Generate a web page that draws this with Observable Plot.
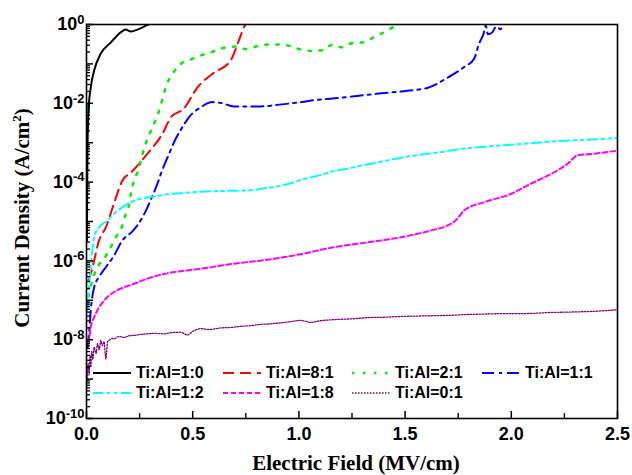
<!DOCTYPE html>
<html><head><meta charset="utf-8">
<script src="https://cdn.jsdelivr.net/npm/d3@7"></script>
<script src="https://cdn.jsdelivr.net/npm/@observablehq/plot@0.6"></script>
<style>
body{margin:0;background:#fff;}
#wrap{position:relative;width:632px;height:475px;overflow:hidden;background:#fff;}
.ttl{position:absolute;font-family:"Liberation Serif","Times New Roman",serif;font-weight:bold;font-size:21px;white-space:nowrap;color:#000;line-height:1;}
.item{position:absolute;display:flex;align-items:center;height:20px;font-family:"Liberation Sans",Arial,sans-serif;font-weight:bold;font-size:16px;color:#000;white-space:nowrap;}
.item svg{margin-right:5px;}
</style></head><body><div id="wrap"></div>
<script>
// ---- data (E in MV/cm, log10 of J in A/cm^2) ----
const names = ["Ti:Al=1:0","Ti:Al=8:1","Ti:Al=2:1","Ti:Al=1:1","Ti:Al=1:2","Ti:Al=1:8","Ti:Al=0:1"];
const colors = ["#000000","#ff0000","#00ee00","#0000ff","#00ffff","#ff00ff","#800080"];
const dashes = ["none","11,6","2.5,8.5","12,5,3,5","10,4,3,4,3,4","5,3","1.5,1.5"];
const widths = [2,2,2.5,2,2,2,1.3];

const E_10 = [0.002,0.003,0.005,0.011,0.02,0.036,0.067,0.114,0.161,0.185,0.209,0.24,0.279,0.30];
const L_10 = [-5.5,-4.5,-3.0,-2.06,-1.6,-1.17,-0.74,-0.46,-0.2,-0.13,-0.18,-0.13,-0.03,0.03];

const E_81 = [0.01,0.028,0.059,0.091,0.129,0.169,0.209,0.287,0.358,0.397,0.459,0.522,0.593,0.679,0.717,0.745,0.755];
const L_81 = [-6.5,-6.17,-5.48,-5.15,-4.55,-3.96,-3.76,-3.28,-2.77,-2.36,-2.13,-1.6,-1.25,-0.91,-0.41,-0.03,0.05];

const E_21 = [0.01,0.03,0.052,0.082,0.114,0.138,0.169,0.185,0.201,0.209,0.224,0.24,0.256,0.271,0.311,0.331,0.347,0.362,0.378,0.405,0.444,0.499,0.546,0.601,0.648,0.703,0.75,0.805,0.855,0.907,0.962,1.012,1.061,1.114,1.155,1.202,1.252,1.304,1.354,1.406,1.452,1.47];
const L_21 = [-6.9,-6.45,-6.15,-5.95,-5.65,-5.4,-5.1,-4.8,-4.55,-4.28,-3.96,-3.75,-3.45,-3.15,-2.6,-2.35,-2.1,-1.8,-1.52,-1.25,-1.0,-0.87,-0.77,-0.68,-0.59,-0.56,-0.62,-0.55,-0.51,-0.51,-0.55,-0.64,-0.67,-0.65,-0.52,-0.58,-0.47,-0.45,-0.32,-0.18,-0.03,0.05];

const E_11 = [0.005,0.012,0.02,0.036,0.059,0.091,0.13,0.169,0.216,0.264,0.287,0.311,0.334,0.35,0.389,0.42,0.452,0.483,0.538,0.593,0.632,0.695,0.758,0.82,0.868,0.962,1.009,1.088,1.197,1.291,1.401,1.511,1.605,1.7,1.778,1.825,1.848,1.869,1.88,1.89,1.91,1.93,1.95,1.96];
const L_11 = [-8.2,-7.85,-7.26,-6.67,-6.41,-6.16,-5.86,-5.48,-5.25,-4.89,-4.64,-4.34,-4.04,-3.79,-3.28,-2.9,-2.6,-2.35,-2.1,-1.97,-1.99,-2.08,-2.08,-2.08,-2.06,-2.0,-1.97,-1.91,-1.86,-1.8,-1.74,-1.68,-1.61,-1.35,-1.08,-0.87,-0.49,-0.24,-0.03,-0.25,-0.2,-0.05,-0.12,0.05];

const E_12 = [0.005,0.012,0.02,0.036,0.059,0.099,0.13,0.169,0.209,0.256,0.303,0.381,0.444,0.522,0.6,0.695,0.774,0.821,0.899,0.962,1.025,1.095,1.166,1.229,1.291,1.354,1.417,1.48,1.542,1.605,1.668,1.747,1.872,1.998,2.123,2.249,2.374,2.5];
const L_12 = [-7.26,-6.67,-6.16,-5.4,-5.15,-4.97,-4.8,-4.64,-4.51,-4.42,-4.38,-4.31,-4.28,-4.25,-4.23,-4.22,-4.21,-4.17,-4.11,-4.03,-3.92,-3.83,-3.72,-3.66,-3.58,-3.52,-3.45,-3.38,-3.33,-3.28,-3.24,-3.17,-3.10,-3.05,-3.0,-2.95,-2.92,-2.88];

const E_18 = [0.008,0.012,0.02,0.036,0.059,0.091,0.13,0.177,0.224,0.287,0.365,0.444,0.538,0.695,0.852,1.009,1.166,1.323,1.48,1.62,1.7,1.739,1.778,1.872,1.998,2.092,2.202,2.264,2.312,2.39,2.5];
const L_18 = [-8.1,-8.0,-7.68,-7.43,-7.18,-6.96,-6.79,-6.67,-6.58,-6.45,-6.33,-6.26,-6.2,-6.07,-5.97,-5.83,-5.65,-5.53,-5.4,-5.23,-5.1,-4.97,-4.72,-4.51,-4.3,-4.04,-3.75,-3.54,-3.32,-3.28,-3.2];

const E_01 = [0.003,0.008,0.012,0.017,0.02,0.025,0.03,0.036,0.045,0.052,0.06,0.067,0.075,0.083,0.091,0.095,0.099,0.11,0.12,0.13,0.15,0.177,0.2,0.224,0.25,0.287,0.32,0.365,0.4,0.444,0.475,0.5,0.538,0.58,0.632,0.68,0.726,0.78,0.821,0.86,0.899,0.95,1.009,1.056,1.1,1.166,1.25,1.323,1.4,1.48,1.56,1.636,1.72,1.794,1.87,1.951,2.03,2.107,2.18,2.264,2.33,2.39,2.45,2.5];
const L_01 = [-9.0,-8.6,-8.9,-8.4,-8.7,-8.3,-8.5,-8.19,-8.35,-8.1,-8.25,-8.02,-8.15,-8.05,-8.49,-8.3,-8.06,-8.0,-7.97,-7.98,-7.92,-7.94,-7.9,-7.89,-7.87,-7.85,-7.84,-7.85,-7.82,-7.81,-7.88,-7.79,-7.72,-7.74,-7.7,-7.69,-7.66,-7.64,-7.61,-7.6,-7.58,-7.55,-7.51,-7.56,-7.52,-7.49,-7.47,-7.44,-7.43,-7.41,-7.40,-7.39,-7.38,-7.36,-7.35,-7.34,-7.34,-7.33,-7.31,-7.3,-7.29,-7.28,-7.26,-7.24];

const seriesE = [E_10,E_81,E_21,E_11,E_12,E_18,E_01];
const seriesL = [L_10,L_81,L_21,L_11,L_12,L_18,L_01];

const xMajor = [0,0.5,1.0,1.5,2.0,2.5];
const xMinor = [0.25,0.75,1.25,1.75,2.25];
const yExpAll = [-10,-9,-8,-7,-6,-5,-4,-3,-2,-1,0];
const yExpLabeled = [-10,-8,-6,-4,-2,0];

// ---- build ----
const yMajor = yExpAll.map(e => Math.pow(10, e));
const yLabeled = yExpLabeled.map(e => Math.pow(10, e));
const yMinor = [];
for (const e of yExpAll.slice(0, -1)) for (let m = 2; m <= 9; m++) yMinor.push(m * Math.pow(10, e));

const lines = names.map((n, k) => {
  const rows = seriesE[k].map((e, i) => ({E: e, J: Math.pow(10, seriesL[k][i])}));
  return Plot.line(rows, {x: "E", y: "J", stroke: colors[k], strokeWidth: widths[k],
    strokeDasharray: dashes[k], curve: "monotone-x", clip: true});
});

const font = {fontFamily: "Liberation Sans", fontWeight: "bold", fontSize: 18};

const plot = Plot.plot({
  width: 632, height: 475,
  marginLeft: 86, marginRight: 15, marginTop: 24, marginBottom: 57,
  x: {domain: [0, 2.5]},
  y: {type: "log", domain: [1e-10, 1]},
  style: {background: "white", color: "black"},
  marks: [
    ...lines,
    Plot.axisX({ticks: xMajor, tickSize: 7, dy: -7, fill: "none", label: null, strokeWidth: 1.5}),
    Plot.axisX({ticks: xMinor, tickSize: 5, dy: -5, fill: "none", label: null, strokeWidth: 1.4}),
    Plot.axisX({ticks: xMajor, tickSize: 0, tickPadding: 9, tickFormat: d3.format(".1f"), label: null, ...font}),
    Plot.axisY({ticks: yMajor, tickSize: 7, dx: 7, fill: "none", label: null, strokeWidth: 1.5}),
    Plot.axisY({ticks: yMinor, tickSize: 4, dx: 4, fill: "none", label: null, strokeWidth: 1.3}),
    Plot.axisY({ticks: yLabeled, tickSize: 0, tickPadding: 2, tickFormat: d => "10^" + Math.round(Math.log10(d)), label: null, ...font}),
    Plot.frame({stroke: "black", strokeWidth: 1.6})
  ]
});

// superscript exponents on y tick labels
const NS = "http://www.w3.org/2000/svg";
plot.querySelectorAll('[aria-label="y-axis tick label"] text').forEach(t => {
  const s = t.textContent;
  if (!s.includes("^")) return;
  const [b, e] = s.split("^");
  t.textContent = "";
  const t1 = document.createElementNS(NS, "tspan"); t1.textContent = b; t.appendChild(t1);
  const t2 = document.createElementNS(NS, "tspan"); t2.textContent = e;
  t2.setAttribute("dy", "-0.5em"); t2.setAttribute("font-size", "13"); t.appendChild(t2);
});

const wrap = document.getElementById("wrap");
plot.style.position = "absolute"; plot.style.left = "0"; plot.style.top = "0";
wrap.appendChild(plot);

// axis titles
const xt = document.createElement("div");
xt.className = "ttl"; xt.textContent = "Electric Field (MV/cm)";
xt.style.left = "356px"; xt.style.top = "453px"; xt.style.transform = "translateX(-50%)";
wrap.appendChild(xt);
const yt = document.createElement("div");
yt.className = "ttl"; yt.innerHTML = "Current Density (A/cm<sup style='font-size:13px;vertical-align:0;position:relative;top:-8px'>2</sup>)";
yt.style.left = "22px"; yt.style.top = "218px"; yt.style.transform = "translate(-50%,-50%) rotate(-90deg)";
wrap.appendChild(yt);

// legend
const legX = [93, 223, 352, 482];
const legY = [363, 383];
names.forEach((n, k) => {
  const col = k % 4, row = Math.floor(k / 4);
  const it = document.createElement("div");
  it.className = "item";
  it.style.left = legX[col] + "px"; it.style.top = legY[row] + "px";
  it.innerHTML = `<svg width="38" height="10"><line x1="0" y1="5" x2="38" y2="5" stroke="${colors[k]}" stroke-width="${widths[k]}" stroke-dasharray="${dashes[k]}"/></svg><span>${n}</span>`;
  wrap.appendChild(it);
});
</script></body></html>
